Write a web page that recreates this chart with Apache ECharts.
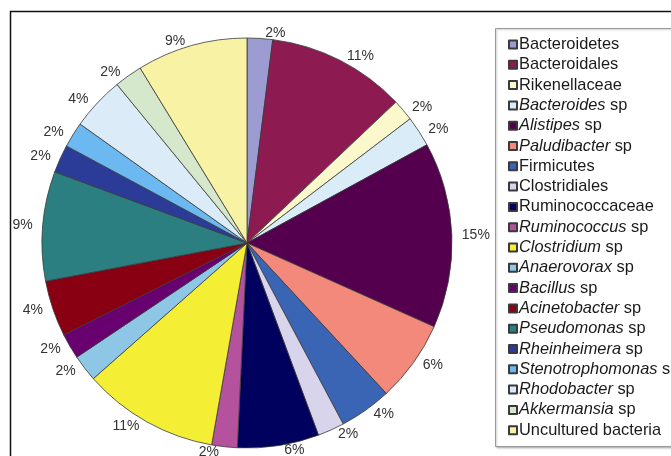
<!DOCTYPE html>
<html><head><meta charset="utf-8">
<script src="https://cdn.jsdelivr.net/npm/echarts@6/dist/echarts.min.js"></script>
<style>html,body{margin:0;padding:0;background:#fff}#c{width:671px;height:456px}</style>
</head><body><div id="c"></div>
<script>
// [genus-part (italic), suffix (plain)]
const names = [
  ['', 'Bacteroidetes'], ['', 'Bacteroidales'], ['', 'Rikenellaceae'], ['Bacteroides', ' sp'],
  ['Alistipes', ' sp'], ['Paludibacter', ' sp'], ['', 'Firmicutes'], ['', 'Clostridiales'],
  ['', 'Ruminococcaceae'], ['Ruminococcus', ' sp'], ['Clostridium', ' sp'], ['Anaerovorax', ' sp'],
  ['Bacillus', ' sp'], ['Acinetobacter', ' sp'], ['Pseudomonas', ' sp'], ['Rheinheimera', ' sp'],
  ['Stenotrophomonas', ' sp'], ['Rhodobacter', ' sp'], ['Akkermansia', ' sp'], ['', 'Uncultured bacteria']
];
const values = [2.0, 10.9, 1.7, 2.4, 14.6, 6.4, 4.1, 2.1, 6.4, 2.0, 10.7, 2.1, 2.0, 4.4, 8.6, 2.2, 2.0, 4.2, 2.2, 8.7];
const labels = ['2%','11%','2%','2%','15%','6%','4%','2%','6%','2%','11%','2%','2%','4%','9%','2%','2%','4%','2%','9%'];
const colors = ['#9c9cd2','#8e1a52','#fbf8cc','#d9ecf8','#55004e','#f2897b','#3a64b4','#d8d4ec','#00005e','#b4529e',
  '#f4ee34','#8ec6e6','#680070','#880012','#2c7f80','#2a3c98','#6cb8f0','#dcebf8','#d6e8cc','#f8f3a4'];

const full = names.map(n => n[0] + n[1]);
const data = full.map((n, i) => ({ name: n, value: values[i], label: { formatter: labels[i] }, itemStyle: { color: colors[i] } }));

const FF = 'Liberation Sans, Arial, sans-serif';
const chart = echarts.init(document.getElementById('c'));
chart.setOption({
  animation: false,
  graphic: [
    { type: 'rect', shape: { x: 10.5, y: 11.5, width: 700, height: 500 }, style: { fill: 'none', stroke: '#111', lineWidth: 1.5 }, z: 0 },
    { type: 'rect', shape: { x: 495.5, y: 28.5, width: 200, height: 418 }, style: { fill: '#fff', stroke: '#9a9a9a', lineWidth: 1, shadowColor: 'rgba(0,0,0,0.25)', shadowBlur: 2, shadowOffsetX: 1, shadowOffsetY: 1 }, z: 0 }
  ],
  legend: {
    orient: 'vertical', left: 508, top: 36.5, padding: 0,
    itemWidth: 8, itemHeight: 8, itemGap: 4.3,
    icon: 'rect',
    data: full,
    formatter: function (n) {
      const i = full.indexOf(n);
      const p = names[i];
      return (p[0] ? '{i|' + p[0] + '}' : '') + (p[1] ? '{n|' + p[1] + '}' : '');
    },
    textStyle: {
      fontFamily: FF, fontSize: 16, color: '#1a1a1a', padding: [0, 0, 0, -3],
      rich: {
        i: { fontStyle: 'italic', fontFamily: FF, fontSize: 16.4, color: '#1a1a1a', lineHeight: 16 },
        n: { fontFamily: FF, fontSize: 16.4, color: '#1a1a1a', lineHeight: 16 }
      }
    }
  },
  series: [{
    type: 'pie',
    center: [247, 243], radius: 205,
    startAngle: 90, clockwise: true,
    avoidLabelOverlap: false,
    itemStyle: { borderColor: '#3a3a3a', borderWidth: 0.8 },
    label: { position: 'outside', fontFamily: FF, fontSize: 14, color: '#333' },
    labelLine: { show: false, length: 5, length2: 0 },
    emphasis: { disabled: true },
    data: data
  }]
});
</script></body></html>
